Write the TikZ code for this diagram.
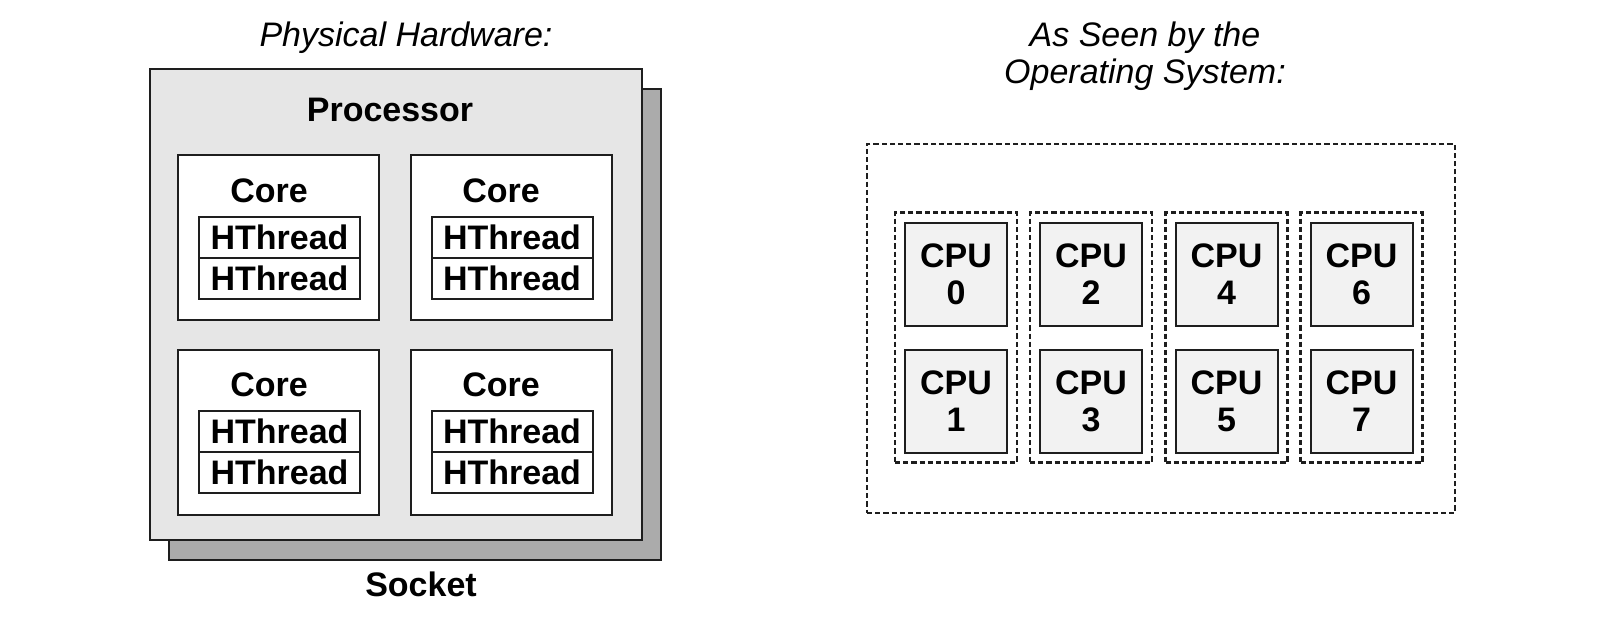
\documentclass[tikz,border=0pt]{standalone}
\usepackage{fontspec}
\setmainfont{Liberation Sans}
\usepackage{xcolor}
\definecolor{chipGray}{HTML}{E6E6E6}
\definecolor{socketGray}{HTML}{ABABAB}
\definecolor{cpuGray}{HTML}{F2F2F2}
\definecolor{lineDark}{HTML}{1E1E1E}
\usepackage{tikz}
\usetikzlibrary{
    positioning,
    fit
}
\tikzset{
    % Base style for all bold labels
    bold text/.style={
        font=\fontsize{17}{18.5}\selectfont\bfseries,
        text=black,
        align=center,
        inner sep=0pt,
    },
    % Italic headings above both halves
    heading/.style={
        font=\fontsize{17}{18.5}\selectfont\itshape,
        text=black,
        align=center,
        inner sep=0pt,
    },
    % Socket - dark plate behind the processor
    socket/.style={
        rectangle,
        draw=lineDark,
        line width=1pt,
        fill=socketGray,
        minimum width=246pt,
        minimum height=235.5pt,
        inner sep=0pt,
    },
    % Processor - light gray plate
    processor/.style={
        socket,
        fill=chipGray,
    },
    % Core boxes - white
    core/.style={
        rectangle,
        draw=lineDark,
        line width=1pt,
        fill=white,
        minimum width=100.5pt,
        minimum height=82.5pt,
        inner sep=0pt,
    },
    % Hardware thread rows
    hthread/.style={
        bold text,
        rectangle,
        draw=lineDark,
        line width=1pt,
        fill=white,
        minimum width=80.5pt,
        minimum height=20.5pt,
        outer sep=0pt,
    },
    % Logical CPU boxes
    cpu/.style={
        bold text,
        rectangle,
        draw=lineDark,
        line width=1pt,
        fill=cpuGray,
        minimum width=51pt,
        minimum height=51.5pt,
    },
    % Dashed frames
    dashed frame/.style={
        rectangle,
        draw=lineDark,
        line width=1.1pt,
        dash pattern=on 2.6pt off 1.5pt,
        inner sep=0pt,
    },
    pair frame/.style={
        dashed frame,
        inner sep=4.5pt,
    },
}

\begin{document}
\begin{tikzpicture}[x=0.5pt, y=-0.5pt]
    \useasboundingbox (0,0) rectangle (1598,616);

    % Physical hardware
    \node (hwtitle) [heading, anchor=north] at (406,21) {Physical Hardware:};
    \node (socket) [socket] at (415,324.5) {};
    \node (proc) [processor] at (396,304.5) {};
    \node (proclabel) [bold text] at (390,110) {Processor};
    \node (socklabel) [bold text] at (421,584) {Socket};

    \node (coreA) [core] at (278.5,237.5) {};
    \node (coreB) [core] at (511,237.5) {};
    \node (coreC) [core] at (278.5,432) {};
    \node (coreD) [core] at (511,432) {};

    \node (labelA) [bold text] at (269,191) {Core};
    \node (labelB) [bold text] at (501,191) {Core};
    \node (labelC) [bold text] at (269,385) {Core};
    \node (labelD) [bold text] at (501,385) {Core};

    \node (threadA1) [hthread] at (279.5,237.5) {HThread};
    \node (threadA2) [hthread, below=0pt of threadA1] {HThread};
    \node (threadB1) [hthread] at (512,237.5) {HThread};
    \node (threadB2) [hthread, below=0pt of threadB1] {HThread};
    \node (threadC1) [hthread] at (279.5,431.5) {HThread};
    \node (threadC2) [hthread, below=0pt of threadC1] {HThread};
    \node (threadD1) [hthread] at (512,431.5) {HThread};
    \node (threadD2) [hthread, below=0pt of threadD1] {HThread};

    % As seen by the operating system
    \node (ostitle) [heading, anchor=north] at (1145,21) {As Seen by the\\Operating System:};
    \node (osbox) [dashed frame, minimum width=294pt, minimum height=184.5pt] at (1161,328.5) {};

    \node (cpu0) [cpu] at (956,274) {CPU\\0};
    \node (cpu1) [cpu] at (956,401) {CPU\\1};
    \node (cpu2) [cpu] at (1091,274) {CPU\\2};
    \node (cpu3) [cpu] at (1091,401) {CPU\\3};
    \node (cpu4) [cpu] at (1226.5,274) {CPU\\4};
    \node (cpu5) [cpu] at (1226.5,401) {CPU\\5};
    \node (cpu6) [cpu] at (1361.5,274) {CPU\\6};
    \node (cpu7) [cpu] at (1361.5,401) {CPU\\7};

    \node (pair01) [pair frame, fit=(cpu0)(cpu1)] {};
    \node (pair23) [pair frame, fit=(cpu2)(cpu3)] {};
    \node (pair45) [pair frame, fit=(cpu4)(cpu5)] {};
    \node (pair67) [pair frame, fit=(cpu6)(cpu7)] {};
\end{tikzpicture}
\end{document}
